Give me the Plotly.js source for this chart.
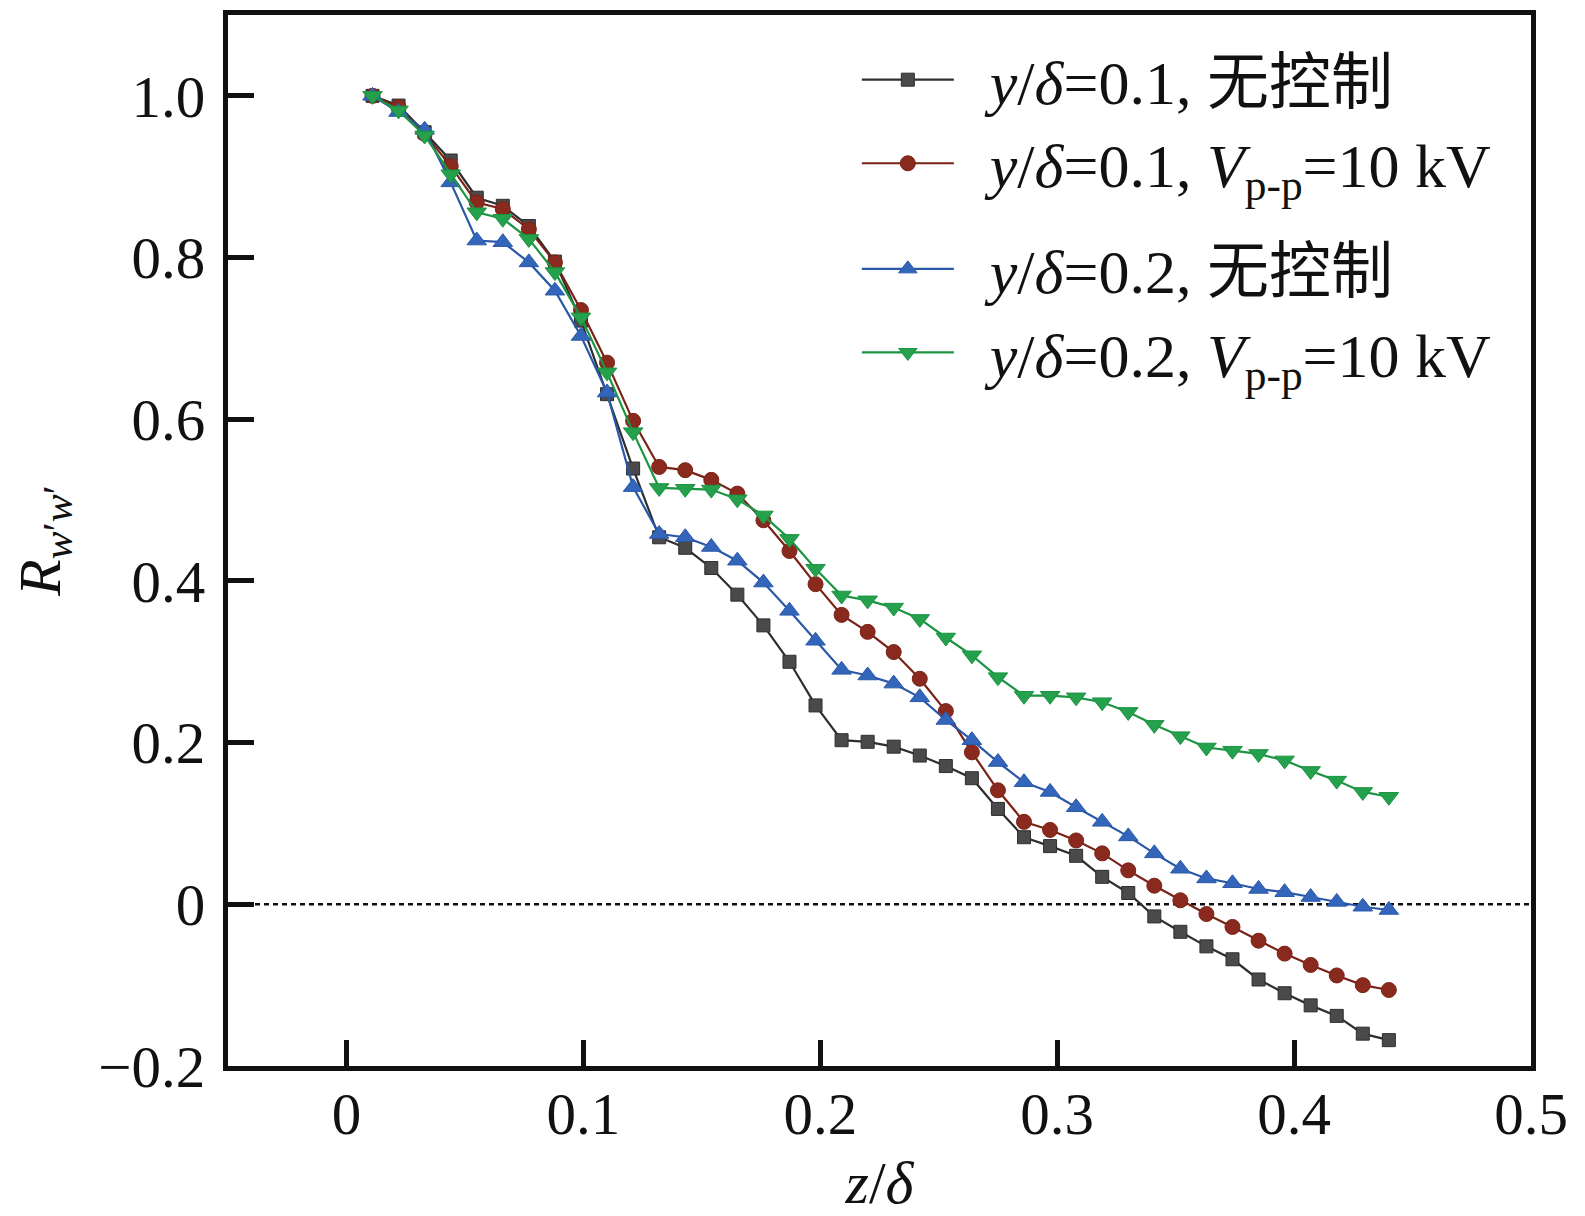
<!DOCTYPE html>
<html>
<head>
<meta charset="utf-8">
<script src="https://cdn.plot.ly/plotly-3.0.1.min.js"></script>
<style>
html,body{margin:0;padding:0;background:#fff;}
#chart{width:1585px;height:1216px;}
</style>
</head>
<body>
<div id="chart"></div>
<script>
// z/delta positions
const zDelta = [0.011,0.022,0.033,0.044,0.055,0.066,0.077,0.088,0.099,0.110,
                0.121,0.132,0.143,0.154,0.165,0.176,0.187,0.198,0.209,0.220,
                0.231,0.242,0.253,0.264,0.275,0.286,0.297,0.308,0.319,0.330,
                0.341,0.352,0.363,0.374,0.385,0.396,0.407,0.418,0.429,0.440];

// y/delta=0.1, no control
const y01NoCtrl = [1.000,0.988,0.955,0.920,0.874,0.864,0.839,0.795,0.722,0.631,
                   0.539,0.454,0.441,0.416,0.383,0.345,0.300,0.246,0.203,0.201,
                   0.195,0.184,0.171,0.156,0.118,0.083,0.072,0.060,0.034,0.014,
                   -0.015,-0.034,-0.052,-0.068,-0.093,-0.110,-0.125,-0.138,-0.160,-0.168];
// y/delta=0.1, Vp-p=10 kV
const y01Ctrl = [1.000,0.986,0.953,0.913,0.868,0.860,0.835,0.794,0.735,0.670,
                 0.598,0.541,0.537,0.525,0.508,0.475,0.437,0.396,0.358,0.337,
                 0.312,0.279,0.239,0.188,0.141,0.102,0.092,0.079,0.063,0.042,
                 0.023,0.005,-0.012,-0.028,-0.045,-0.061,-0.075,-0.088,-0.100,-0.106];
// y/delta=0.2, no control
const y02NoCtrl = [1.000,0.980,0.958,0.893,0.821,0.819,0.794,0.759,0.703,0.633,
                   0.516,0.458,0.454,0.442,0.425,0.398,0.363,0.326,0.290,0.283,
                   0.273,0.256,0.228,0.203,0.176,0.151,0.139,0.120,0.102,0.084,
                   0.063,0.044,0.032,0.026,0.019,0.015,0.009,0.003,-0.003,-0.007];
// y/delta=0.2, Vp-p=10 kV
const y02Ctrl = [1.000,0.982,0.951,0.903,0.856,0.848,0.823,0.782,0.726,0.658,
                 0.584,0.515,0.514,0.513,0.501,0.481,0.452,0.415,0.382,0.376,
                 0.367,0.353,0.330,0.308,0.281,0.258,0.258,0.256,0.250,0.238,
                 0.222,0.208,0.194,0.190,0.186,0.178,0.165,0.153,0.139,0.133];

const PAD = '\u2002';
const seriesNames = [
  PAD + '<i>y</i>/<i>δ</i>=0.1, 无控制',
  PAD + '<i>y</i>/<i>δ</i>=0.1, <i>V</i><sub>p-p</sub>=10 kV',
  PAD + '<i>y</i>/<i>δ</i>=0.2, 无控制',
  PAD + '<i>y</i>/<i>δ</i>=0.2, <i>V</i><sub>p-p</sub>=10 kV'
];

const xTickVals = [0,0.1,0.2,0.3,0.4,0.5];
const xTickText = ['0','0.1','0.2','0.3','0.4','0.5'];
const yTickVals = [-0.2,0,0.2,0.4,0.6,0.8,1.0];
const yTickText = ['\u22120.2','0','0.2','0.4','0.6','0.8','1.0'];

const FONT = 'Liberation Serif, Noto Sans CJK SC, serif';

function tr(y, name, group, sym, size, mcol, lcol){
  return {
    x: zDelta, y: y, name: name, legendgroup: group, type: 'scatter', mode: 'lines+markers',
    line: {color: lcol, width: 2.2},
    marker: {symbol: sym, size: size, color: mcol, line: {color: lcol, width: 1}}
  };
}

const data = [
  tr(y01NoCtrl, seriesNames[0], 'a', 'square', 13, '#4a4a4a', '#2e2e2e'),
  tr(y01Ctrl,   seriesNames[1], 'a', 'circle', 15, '#8a2a1e', '#7a2216'),
  tr(y02NoCtrl, seriesNames[2], 'b', 'triangle-up', 17, '#3366bb', '#2a58a8'),
  tr(y02Ctrl,   seriesNames[3], 'b', 'triangle-down', 17, '#25a04c', '#1c9442')
];

const layout = {
  width: 1585, height: 1216,
  paper_bgcolor: '#ffffff', plot_bgcolor: '#ffffff',
  margin: {l: 228, r: 54, t: 15, b: 150},
  font: {family: FONT, size: 58, color: '#111'},
  showlegend: true,
  legend: {
    x: 0.4826, y: 0.983, xanchor: 'left', yanchor: 'top',
    bgcolor: 'rgba(0,0,0,0)', borderwidth: 0,
    font: {family: FONT, size: 62, color: '#111'},
    itemwidth: 92, tracegroupgap: 22, traceorder: 'grouped'
  },
  xaxis: {
    range: [-0.05, 0.5],
    tickvals: xTickVals, ticktext: xTickText,
    ticks: 'inside', ticklen: 26, tickwidth: 5, tickcolor: '#111',
    ticklabelstandoff: -8,
    showline: true, linewidth: 5, linecolor: '#111', mirror: true,
    showgrid: false, zeroline: false,
    tickfont: {family: FONT, size: 59, color: '#111'},
    title: {text: '<i>z</i>/<i>δ</i>', font: {family: FONT, size: 60, color: '#111'}, standoff: 20}
  },
  yaxis: {
    range: [-0.2, 1.1],
    tickvals: yTickVals, ticktext: yTickText,
    ticks: 'inside', ticklen: 26, tickwidth: 5, tickcolor: '#111',
    ticklabelstandoff: 6,
    showline: true, linewidth: 5, linecolor: '#111', mirror: true,
    showgrid: false, zeroline: false,
    tickfont: {family: FONT, size: 59, color: '#111'},
    title: {text: '<i>R</i><sub><i>w</i>′<i>w</i>′</sub>', font: {family: FONT, size: 60, color: '#111'}, standoff: 20}
  },
  shapes: [{
    type: 'line', xref: 'paper', yref: 'y', x0: 0, x1: 1, y0: 0, y1: 0,
    line: {color: '#111', width: 2.5, dash: '5px,4px'}, layer: 'below'
  }]
};

Plotly.newPlot('chart', data, layout, {displayModeBar: false, staticPlot: true});
</script>
</body>
</html>
